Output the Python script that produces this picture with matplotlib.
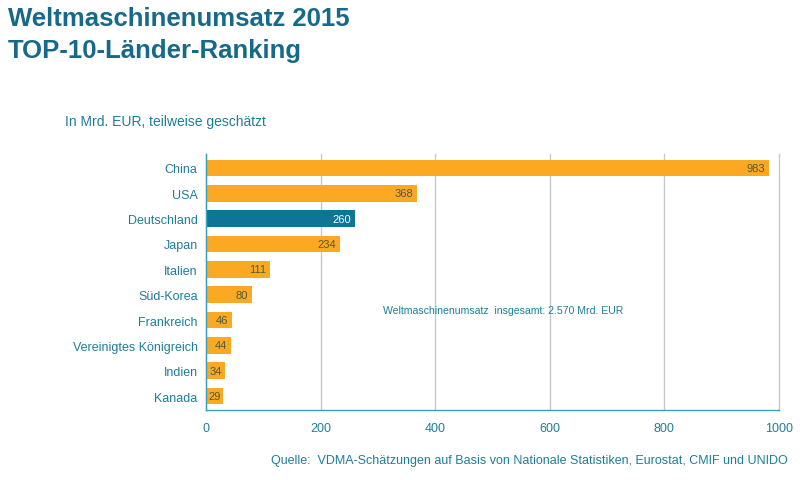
import matplotlib
matplotlib.use("Agg")
import matplotlib.pyplot as plt

plt.rcParams['font.family'] = ['Liberation Sans', 'DejaVu Sans']

countries = ["China", "USA", "Deutschland", "Japan", "Italien", "Süd-Korea",
             "Frankreich", "Vereinigtes Königreich", "Indien", "Kanada"]
values = [983, 368, 260, 234, 111, 80, 46, 44, 34, 29]
highlight = "Deutschland"
xticks = [0, 200, 400, 600, 800, 1000]

ORANGE = "#FBA922"
BLUE = "#0E7596"
TEAL = "#1E7E98"
TITLE = "#17698A"
VALTXT = "#4F5B3A"

fig = plt.figure(figsize=(8, 4.81), dpi=100)
ax_w_px = 779 - 206
ax = fig.add_axes([206/800, 1-411/481, ax_w_px/800, (411-155)/481])

ypos = list(range(len(countries)))
colors = [BLUE if c == highlight else ORANGE for c in countries]
ax.barh(ypos, values, height=0.66, color=colors, zorder=3)
ax.set_ylim(len(countries) - 0.45, -0.55)
ax.set_xlim(0, 1000)
ax.set_xticks(xticks)
ax.set_xticklabels([str(t) for t in xticks], color=TEAL, fontsize=9)
ax.set_yticks(ypos)
ax.set_yticklabels(countries, color=TEAL, fontsize=9)
ax.tick_params(axis='both', length=0, pad=6)
ax.tick_params(axis='x', pad=9)
ax.grid(axis='x', color="#C8C8C8", linewidth=1, zorder=0)
for gl in ax.get_xgridlines():
    gl.set_clip_on(False)
for s in ['top', 'right']:
    ax.spines[s].set_visible(False)
for s in ['left', 'bottom']:
    ax.spines[s].set_color("#3AA0BE")
    ax.spines[s].set_linewidth(1)
    ax.spines[s].set_zorder(4)

px_per_unit = ax_w_px / 1000.0
for y, v, c in zip(ypos, values, countries):
    col = "white" if c == highlight else VALTXT
    label = str(v)
    text_w = len(label) * 6.2  # approx px width at 8pt
    if v * px_per_unit - 4 - text_w < 2.5:
        ax.annotate(label, xy=(0, y), xytext=(2.5, 0), textcoords='offset pixels',
                    ha='left', va='center', fontsize=8, color=col, zorder=5)
    else:
        ax.annotate(label, xy=(v, y), xytext=(-4, 0), textcoords='offset pixels',
                    ha='right', va='center', fontsize=8, color=col, zorder=5)

fig.text(383/800, 1-311/481, "Weltmaschinenumsatz  insgesamt: 2.570 Mrd. EUR",
         fontsize=7.6, color=TEAL, va='center', ha='left')

fig.text(8/800, 1-19/481, "Weltmaschinenumsatz 2015", fontsize=18.5, fontweight='bold',
         color=TITLE, va='center', ha='left')
fig.text(8/800, 1-51/481, "TOP-10-Länder-Ranking", fontsize=18.5, fontweight='bold',
         color=TITLE, va='center', ha='left')
fig.text(65/800, 1-122/481, "In Mrd. EUR, teilweise geschätzt", fontsize=10,
         color=TEAL, va='center', ha='left')
fig.text(788/800, 1-461/481,
         "Quelle:  VDMA-Schätzungen auf Basis von Nationale Statistiken, Eurostat, CMIF und UNIDO",
         fontsize=9, color=TEAL, va='center', ha='right')

fig.savefig("out.png", dpi=100, facecolor="white")
